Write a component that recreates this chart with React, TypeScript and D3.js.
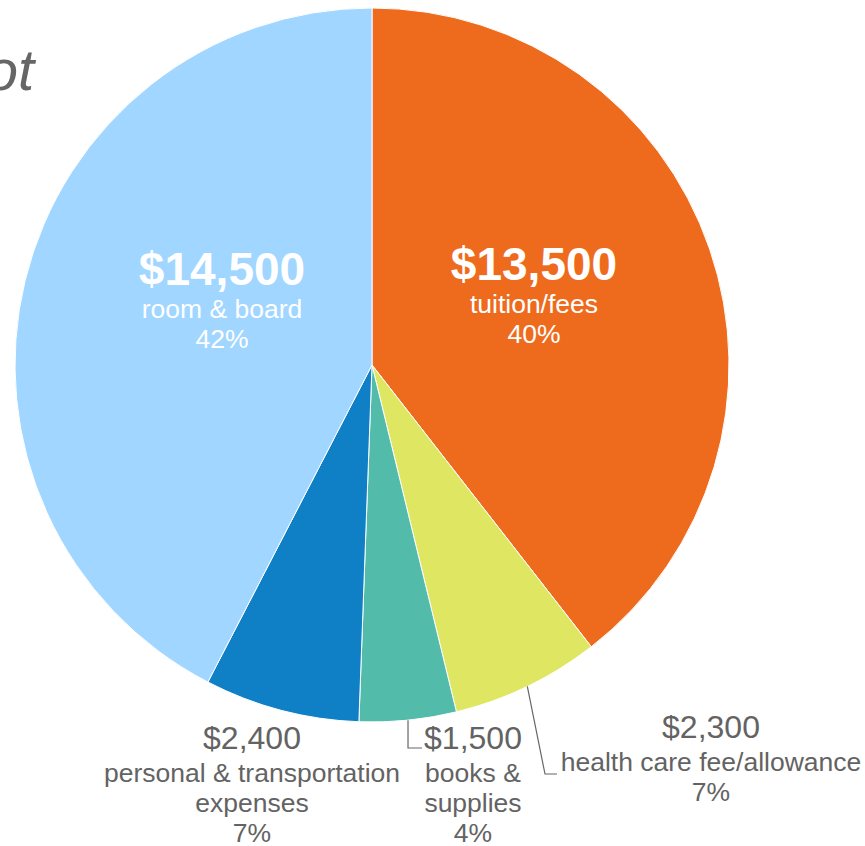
import React from "react";
import * as d3 from "d3";

const categories = ["tuition/fees", "health care fee/allowance", "books & supplies", "personal & transportation expenses", "room & board"];
const values = [13500, 2300, 1500, 2400, 14500];
const colors = ["#EE6B1E", "#DFE762", "#52BBAA", "#1080C6", "#A0D6FF"];
const valueLabels = ["$13,500", "$2,300", "$1,500", "$2,400", "$14,500"];
const nameLines = [["tuition/fees"], ["health care fee/allowance"], ["books &", "supplies"], ["personal & transportation", "expenses"], ["room & board"]];
const pctLabels = ["40%", "7%", "4%", "7%", "42%"];

const W = 865, H = 846;
const cx = 372, cy = 365, R = 357;
const FONT = "'Liberation Sans', Arial, Helvetica, sans-serif";
const GREY = "#636363";

// label layout: x, y of value baseline, inside?
const labelPos: { x: number; y: number; inside: boolean }[] = [
  { x: 534, y: 280, inside: true },
  { x: 711, y: 738, inside: false },
  { x: 473, y: 749, inside: false },
  { x: 252, y: 749, inside: false },
  { x: 222, y: 285, inside: true },
];

export default function App() {
  const pie = d3.pie<number>().sort(null).value((d) => d).startAngle(0).endAngle(2 * Math.PI);
  const arcs = pie(values);
  const arc = d3.arc<d3.PieArcDatum<number>>().innerRadius(0).outerRadius(R);

  const edge = (a: d3.PieArcDatum<number>) => {
    const m = (a.startAngle + a.endAngle) / 2;
    return [R * Math.sin(m), -R * Math.cos(m)];
  };

  const leaders: { i: number; pts: [number, number][] }[] = [];
  {
    const [x0, y0] = edge(arcs[1]);
    leaders.push({ i: 1, pts: [[cx + x0, cy + y0], [545, 774], [557, 774]] });
    const [x1, y1] = edge(arcs[2]);
    leaders.push({ i: 2, pts: [[cx + x1, cy + y1], [cx + x1, 748], [422, 748]] });
  }
  const line = d3.line();

  return (
    <svg width={W} height={H} style={{ position: "absolute", left: 0, top: 0 }} fontFamily={FONT}>
      <rect width={W} height={H} fill="#fff" />
      <text x={34} y={90} fontSize={58} fontStyle="italic" fill="#666" textAnchor="end">ot</text>
      <g transform={`translate(${cx},${cy})`}>
        {arcs.map((a, i) => (
          <path key={i} d={arc(a) || ""} fill={colors[i]} stroke="#fff" strokeWidth={1} />
        ))}
      </g>
      {leaders.map((l) => (
        <path key={l.i} d={line(l.pts) || ""} fill="none" stroke="#666" strokeWidth={1.2} />
      ))}
      {arcs.map((a, i) => {
        const p = labelPos[i];
        const fill = p.inside ? "#fff" : GREY;
        const lines = [...nameLines[i], pctLabels[i]];
        const gap0 = p.inside ? 33 : 33;
        return (
          <g key={i} textAnchor="middle" fill={fill}>
            <text x={p.x} y={p.y} fontSize={p.inside ? 46 : 32} fontWeight={p.inside ? "bold" : "normal"}>{valueLabels[i]}</text>
            {lines.map((t, j) => (
              <text key={j} x={p.x} y={p.y + gap0 + j * 30} fontSize={26.5}>{t}</text>
            ))}
          </g>
        );
      })}
    </svg>
  );
}
